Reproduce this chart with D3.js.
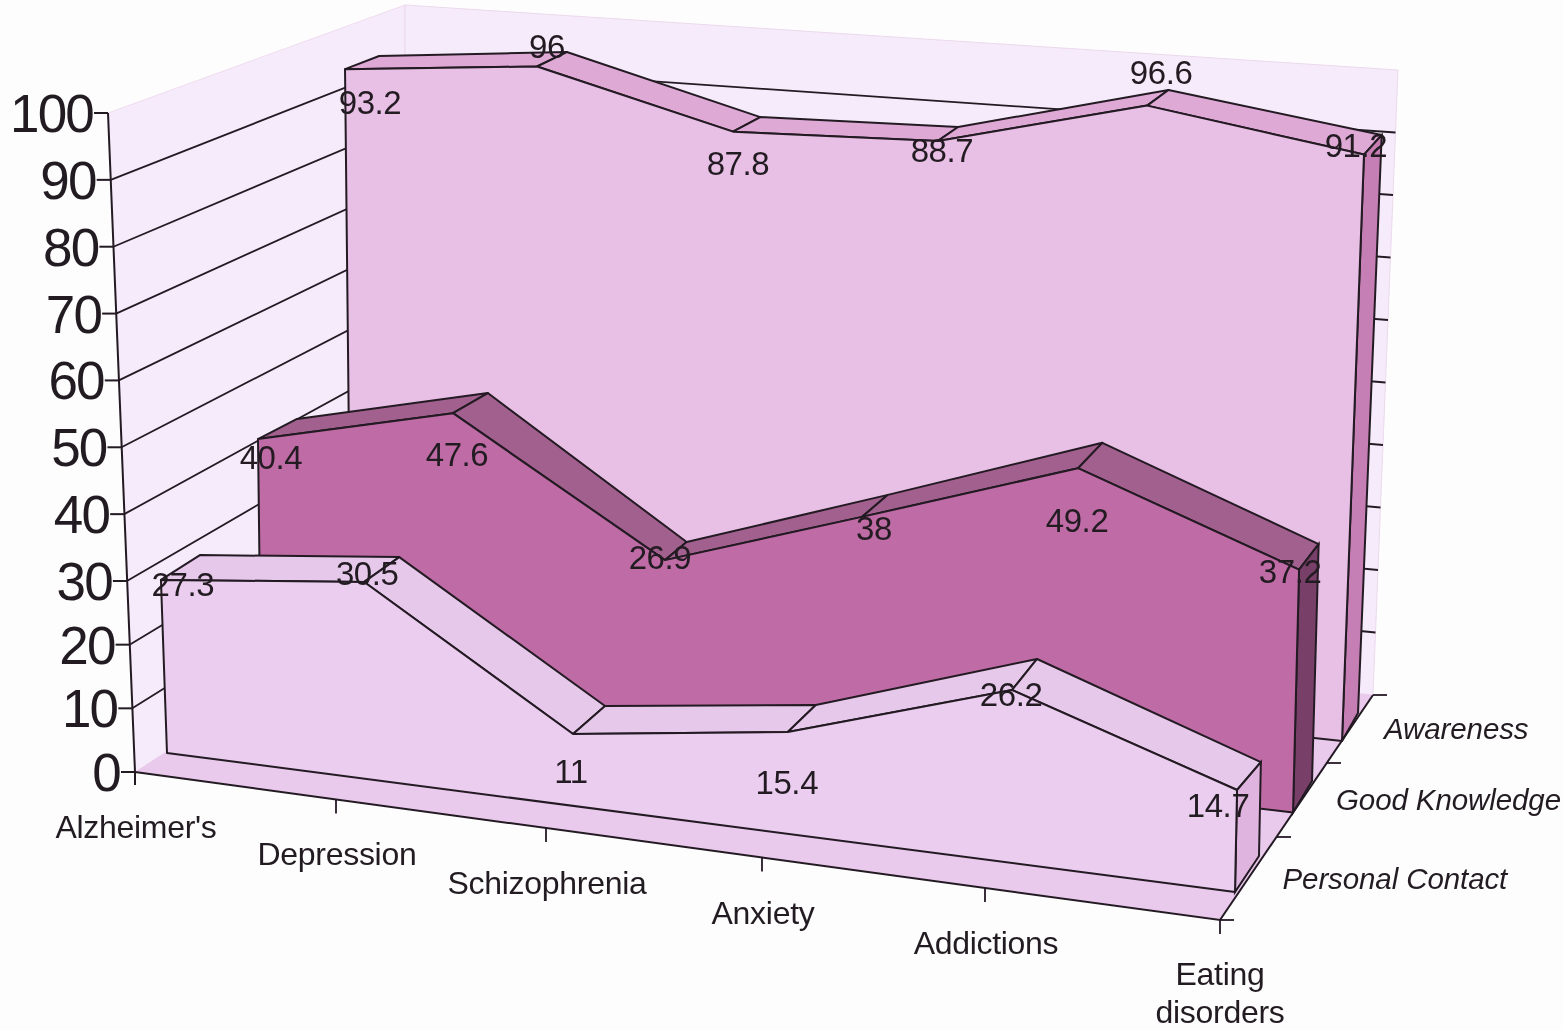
<!DOCTYPE html>
<html><head><meta charset="utf-8">
<script src="https://cdnjs.cloudflare.com/ajax/libs/d3/7.8.5/d3.min.js"></script>
<style>html,body{margin:0;padding:0;background:#fdfdfe;}svg{display:block;}
text{font-family:"Liberation Sans",Arial,sans-serif;fill:#231c22;}</style></head>
<body><svg id="c" width="1563" height="1030"></svg>
<script>
// ---- data ----
const categories = ["Alzheimer's","Depression","Schizophrenia","Anxiety","Addictions","Eating disorders"];
const seriesNames = ["Personal Contact","Good Knowledge","Awareness"];
const personalContact = [27.3,30.5,11,15.4,26.2,14.7];
const goodKnowledge   = [40.4,47.6,26.9,38,49.2,37.2];
const awareness       = [93.2,96,87.8,88.7,96.6,91.2];
const valueTicks = [0,10,20,30,40,50,60,70,80,90,100];

// ---- layout: each depth plane of the 3-D chart has its own set of scales ----
const svg = d3.select("#c");
const cats = d3.range(6);
const plane = p => {
  const xb = d3.scaleLinear(cats,p.x), base = d3.scaleLinear([0,5],p.base),
        unit = d3.scaleLinear(d3.range(p.unit.length).map(i=>i*5/(p.unit.length-1)),p.unit),
        lean = d3.scaleLinear([0,5],p.lean);
  return (t,v)=>{const h=unit(t)*v; return [xb(t)+lean(t)*h, base(t)-h];};
};
const layers = [
 {values:awareness,
  front:plane({x:[351,537.6,728.3,927.8,1130,1342],base:[633,741],unit:[6.05,6.43],lean:[-.0106,.0375]}),
  back: plane({x:[385,567,755,947,1150,1358],base:[611,713],unit:[5.955,6.035,6.09,6.147,6.238,6.338],lean:[-.0106,.041]}),
  fFront:"#e8bfe5",fTop:"#dfa9d6",fSide:"#c67fb4"},
 {values:goodKnowledge,
  front:plane({x:[261,454.4,664.5,859.5,1072.4,1293],base:[690,812.5],unit:[6.21,6.33,6.65,6.49,6.5,6.53],lean:[-.012,.025]}),
  back: plane({x:[300,489,686,885,1096,1312],base:[667,781],unit:[6.14,6.235,6.34,6.33,6.41,6.37],lean:[-.012,.028]}),
  fFront:"#bf6ca6",fTop:"#a2608f",fSide:"#784068"},
 {values:personalContact,
  front:plane({x:[167,369,574,788,1010.5,1235],base:[753,892],unit:[6.34,6.52,6.78,6.78,6.65,6.94],lean:[-.035,.02]}),
  back: plane({x:[206,404,606,816,1035.5,1259],base:[729,856],unit:[6.37,6.47,6.71,6.51,6.55,6.39],lean:[-.035,.02]}),
  fFront:"#ebcdef",fTop:"#e6c8ea",fSide:"#dfb4de"}
];
const labelNudge = [
 {dx:[25,10,5,4,14,-8],dy:[33,-20,32,10,-33,-9]},
 {dx:[13,4,-5,12,-1,-9],dy:[18,41,-3,12,52,2]},
 {dx:[22,3,-2,-1,-1,-19],dy:[5,-8,37,51,5,16]}
];

const axisX = d3.scaleLinear([0,100],[135,108]);
const axisY = d3.scaleLinear([0,30,100],[772,581,113]);
const backLeftY = d3.scaleLinear([0,100],[597,5]);
const backRightX = d3.scaleLinear([0,100],[1373,1398]);
const backRightY = d3.scaleLinear([0,100],[695,70]);
const BACK_LEFT_X = 405;
const catX = d3.scaleLinear(cats,[135,336,546,762,985,1220]);
const catY = x => 772+(x-135)*0.1364;
const depthX = d3.scaleLinear([0,1,2,3],[1220,1277,1327,1373]);
const depthY = d3.scaleLinear([0,1,2,3],[920,837,763,695]);
const line = d3.line();
const closed = pts => line(pts)+"Z";
const ink="#241a24";

const defs = svg.append("defs");
defs.append("filter").attr("id","soft").append("feGaussianBlur").attr("stdDeviation",.5);
const g = svg.append("g").attr("filter","url(#soft)");

// walls and floor
g.append("path").attr("d",closed([[axisX(100),axisY(100)],[BACK_LEFT_X,backLeftY(100)],[BACK_LEFT_X,backLeftY(0)],[axisX(0),axisY(0)]]))
 .attr("fill","#f5ebfa").attr("stroke","#f0dcee").attr("stroke-width",1);
g.append("path").attr("d",closed([[BACK_LEFT_X,backLeftY(100)],[backRightX(100),backRightY(100)],[backRightX(0),backRightY(0)],[BACK_LEFT_X,backLeftY(0)]]))
 .attr("fill","#f5ebfa").attr("stroke","#ecd9ec").attr("stroke-width",1);
g.append("path").attr("d",closed([[axisX(0),axisY(0)],[BACK_LEFT_X,backLeftY(0)],[backRightX(0),backRightY(0)],[depthX(0),depthY(0)]]))
 .attr("fill","#e9c9ec");

// gridlines
valueTicks.slice(1,-1).forEach(v=>{
  g.append("path").attr("d",line([[axisX(v),axisY(v)],[BACK_LEFT_X,backLeftY(v)],[backRightX(v),backRightY(v)]]))
   .attr("fill","none").attr("stroke",ink).attr("stroke-width",1.8);
});

// series, back to front
layers.forEach(s=>{
  const n=s.values.length-1, layer=g.append("g");
  const F=s.values.map((v,i)=>s.front(i,v)), B=s.values.map((v,i)=>s.back(i,v));
  layer.selectAll(".top").data(d3.range(n)).join("path")
    .attr("d",i=>closed([F[i],B[i],B[i+1],F[i+1]]))
    .attr("fill",s.fTop).attr("stroke",ink).attr("stroke-width",2).attr("stroke-linejoin","round");
  layer.append("path").attr("d",closed([F[n],B[n],s.back(n,0),s.front(n,0)]))
    .attr("fill",s.fSide).attr("stroke",ink).attr("stroke-width",2);
  layer.append("path").attr("d",closed([s.front(0,0),...F,s.front(n,0)]))
    .attr("fill",s.fFront).attr("stroke",ink).attr("stroke-width",2).attr("stroke-linejoin","round");
});

// floor front and right edges
g.append("path").attr("d",line([[axisX(0),axisY(0)],[depthX(0),depthY(0)],[depthX(3),depthY(3)]]))
 .attr("fill","none").attr("stroke",ink).attr("stroke-width",2);
// value axis
g.append("path").attr("d",line([[axisX(100),axisY(100)],[axisX(0),axisY(0)],[axisX(0),axisY(0)+13]]))
 .attr("fill","none").attr("stroke",ink).attr("stroke-width",2);
valueTicks.forEach(v=>{
  g.append("line").attr("x1",axisX(v)-14).attr("x2",axisX(v)).attr("y1",axisY(v)).attr("y2",axisY(v))
   .attr("stroke",ink).attr("stroke-width",2);
  g.append("text").attr("x",axisX(v)-15).attr("y",axisY(v)+19).attr("text-anchor","end")
   .attr("font-size",53).attr("letter-spacing",-1.8).text(v);
});
// category ticks and labels
categories.forEach((c,i)=>{
  const x=catX(i), y=catY(x);
  if(i>0) g.append("line").attr("x1",x).attr("x2",x).attr("y1",y).attr("y2",y+14).attr("stroke",ink).attr("stroke-width",1.8);
  const t=g.append("text").attr("text-anchor","middle").attr("font-size",32).attr("letter-spacing",-.3);
  if(c==="Eating disorders"){
    t.append("tspan").attr("x",x).attr("y",y+65).text("Eating");
    t.append("tspan").attr("x",x).attr("y",y+103).text("disorders");
  } else t.attr("x",x+1).attr("y",y+66).text(c);
});
// depth ticks and labels
d3.range(4).forEach(d=>{
  g.append("line").attr("x1",depthX(d)).attr("x2",depthX(d)+14).attr("y1",depthY(d)).attr("y2",depthY(d))
   .attr("stroke",ink).attr("stroke-width",1.8);
});
seriesNames.forEach((nm,d)=>{
  g.append("text").attr("x",depthX(d+.5)+34).attr("y",depthY(d+.5)+10).attr("font-style","italic")
   .attr("font-size",29.5).attr("letter-spacing",-.1).text(nm);
});
// data labels
layers.forEach((s,k)=>{
  s.values.forEach((v,i)=>{
    const p=s.front(i,v), o=labelNudge[k];
    g.append("text").attr("x",p[0]+o.dx[i]).attr("y",p[1]+o.dy[i]+11.5).attr("text-anchor","middle")
     .attr("font-size",33).attr("letter-spacing",-.4).text(v);
  });
});
</script></body></html>
